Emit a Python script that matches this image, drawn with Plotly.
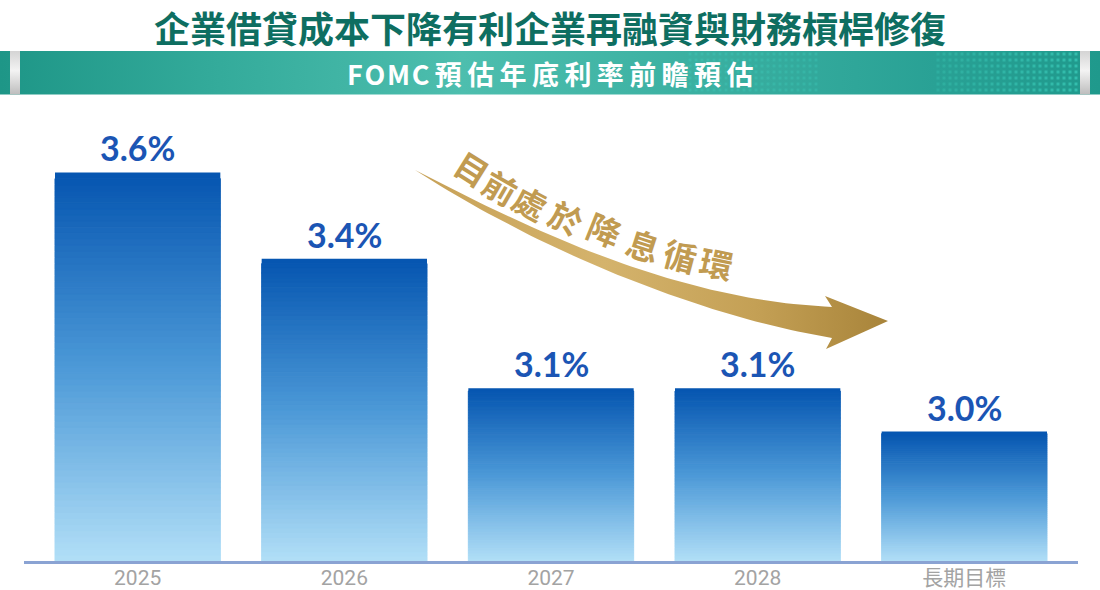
import numpy as np
import plotly.graph_objects as go

# ---------------- data ----------------
categories = ["2025", "2026", "2027", "2028", "長期目標"]
rates = [3.6, 3.4, 3.1, 3.1, 3.0]
rate_labels = ["3.6%", "3.4%", "3.1%", "3.1%", "3.0%"]
title_text = "企業借貸成本下降有利企業再融資與財務槓桿修復"
subtitle_latin = "FOMC"
subtitle_cjk = "預估年底利率前瞻預估"
arrow_text = "目前處於降息循環"

# ---------------- layout constants ----------------
W, H = 1100, 590
BASE = 2.7
PX_PER_UNIT = 431.67
P_LEFT, P_RIGHT, P_TOP, P_BOTTOM = 24, 1078, 110, 561
YMAX = BASE + (P_BOTTOM - P_TOP) / PX_PER_UNIT


def interp(stops, t):
    for (t0, c0), (t1, c1) in zip(stops[:-1], stops[1:]):
        if t <= t1:
            f = 0 if t1 == t0 else (t - t0) / (t1 - t0)
            return "rgb(%d,%d,%d)" % tuple(round(a + (b - a) * f) for a, b in zip(c0, c1))
    return "rgb(%d,%d,%d)" % stops[-1][1]


fig = go.Figure()

# ---------------- gradient bars (stacked thin segments) ----------------
bar_stops = [(0.0, (178, 223, 247)), (0.5, (76, 153, 215)), (1.0, (5, 85, 176))]  # bottom -> top
N = 64
xidx = list(range(len(categories)))
for i in range(N):
    seg = [(v - BASE) / N for v in rates]
    base = [BASE + i * (v - BASE) / N for v in rates]
    col = interp(bar_stops, (i + 0.5) / N)
    fig.add_trace(go.Bar(
        x=categories, y=seg, base=base, width=0.8,
        marker=dict(color=col, line=dict(width=1 if i < N - 1 else 0, color=col)),
        hoverinfo="skip", showlegend=False))

# ---------------- decoration (pixel coordinate axes x2/y2) ----------------
# banner
fig.add_trace(go.Scatter(
    x=[0, W, W, 0, 0], y=[51, 51, 94.5, 94.5, 51], xaxis="x2", yaxis="y2",
    mode="lines", line=dict(width=0), fill="toself",
    fillgradient=dict(type="horizontal", start=0, stop=W,
                      colorscale=[[0, "#1e9687"], [0.2, "#34ab9b"], [0.42, "#4dbeae"],
                                  [0.62, "#3cb1a2"], [0.85, "#29a195"], [1, "#1f998c"]]),
    hoverinfo="skip", showlegend=False))

# dotted texture on banner
dx, dy, da = [], [], []
for gx in np.arange(690, 822, 6):
    for gy in np.arange(54, 93, 6):
        dx.append(gx); dy.append(gy); da.append(0.22)
for gx in np.arange(938, 1078, 6):
    for gy in np.arange(54, 93, 6):
        dx.append(gx); dy.append(gy); da.append(0.2 + 0.3 * (gx - 938) / 140)
fig.add_trace(go.Scatter(
    x=dx, y=dy, xaxis="x2", yaxis="y2", mode="markers",
    marker=dict(symbol="square", size=3, color=["rgba(70,225,205,%.2f)" % a for a in da], line=dict(width=0)),
    hoverinfo="skip", showlegend=False))

# grey end strips
for x0 in (10, 1080):
    fig.add_trace(go.Scatter(
        x=[x0, x0 + 10, x0 + 10, x0, x0], y=[51, 51, 94.5, 94.5, 51], xaxis="x2", yaxis="y2",
        mode="lines", line=dict(width=0), fill="toself",
        fillgradient=dict(type="vertical", start=51, stop=94.5,
                          colorscale=[[0, "#d4d4d4"], [0.45, "#f3f3f3"], [1, "#bdbdbd"]]),
        hoverinfo="skip", showlegend=False))


# golden arrow
def bez(p0, p1, p2, p3, n=60):
    t = np.linspace(0, 1, n)[:, None]
    p0, p1, p2, p3 = map(np.array, (p0, p1, p2, p3))
    return (1 - t) ** 3 * p0 + 3 * (1 - t) ** 2 * t * p1 + 3 * (1 - t) * t ** 2 * p2 + t ** 3 * p3


upper = bez((415, 170), (540, 235), (680, 300), (832, 307))
lower = bez((415, 170), (540, 251), (700, 316), (832, 338))
head = np.array([(825, 296), (888, 321), (826, 349)])
poly = np.vstack([upper, head, lower[::-1]])
fig.add_trace(go.Scatter(
    x=poly[:, 0], y=poly[:, 1], xaxis="x2", yaxis="y2",
    mode="lines", line=dict(width=0), fill="toself",
    fillgradient=dict(type="horizontal", start=415, stop=888,
                      colorscale=[[0, "#c7a157"], [0.4, "#d4b36c"], [0.72, "#c4a055"], [1, "#a8843a"]]),
    hoverinfo="skip", showlegend=False))

annotations = []
# arrow caption, one glyph at a time along the curve
char_pos = [(472, 168, 32), (500, 187, 30), (530, 202, 28), (566, 217, 25),
            (604, 229, 22), (643, 245, 18), (680, 255, 15), (716, 263, 12)]
for ch, (cx, cy, ang) in zip(arrow_text, char_pos):
    annotations.append(dict(
        x=cx, y=cy, xref="x2", yref="y2", text=ch, showarrow=False, textangle=ang,
        font=dict(family="Noto Sans CJK TC", size=33, color="#c19b51", weight="bold"),
        xanchor="center", yanchor="middle"))

# value labels
for i, v, lab in zip(xidx, rates, rate_labels):
    annotations.append(dict(
        x=i, y=v, xref="x", yref="y", text=lab, showarrow=False, yanchor="bottom", yshift=2,
        font=dict(family="Lato", size=34, color="#1b55b4", weight="bold")))

# title & subtitle
annotations.append(dict(
    x=0.5, y=1 - 26.5 / H, xref="paper", yref="paper", text=title_text, showarrow=False,
    xanchor="center", yanchor="middle", borderpad=0,
    font=dict(family="Noto Sans CJK TC", size=36, color="#0e6e61", weight="bold")))
sub = "\u200a".join(subtitle_latin) + "\u2009" + "\u2009".join(subtitle_cjk)
annotations.append(dict(
    x=0.5, y=1 - 73 / H, xref="paper", yref="paper", text=sub, showarrow=False,
    xanchor="center", yanchor="middle",
    font=dict(family="Noto Sans CJK TC", size=27, color="#ffffff", weight="bold")))

fig.update_layout(
    width=W, height=H, margin=dict(l=0, r=0, t=0, b=0),
    paper_bgcolor="white", plot_bgcolor="rgba(0,0,0,0)",
    barmode="overlay", showlegend=False, annotations=annotations,
    xaxis=dict(type="category", domain=[P_LEFT / W, P_RIGHT / W], range=[-0.55, 4.55],
               showline=True, linecolor="#8aa3d3", linewidth=3, ticks="", showgrid=False,
               zeroline=False, fixedrange=True, automargin=False, ticklabelstandoff=-4,
               tickfont=dict(family="Roboto, Noto Sans CJK TC", size=21, color="#a3a3a3")),
    yaxis=dict(domain=[1 - P_BOTTOM / H, 1 - P_TOP / H], range=[BASE, YMAX], visible=False,
               fixedrange=True),
    xaxis2=dict(domain=[0, 1], range=[0, W], visible=False, anchor="y2", fixedrange=True),
    yaxis2=dict(domain=[0, 1], range=[H, 0], visible=False, anchor="x2", fixedrange=True),
)

fig.write_html("out.html", config={"displayModeBar": False},
               post_script="document.body.style.margin='0';document.body.style.overflow='hidden';")
